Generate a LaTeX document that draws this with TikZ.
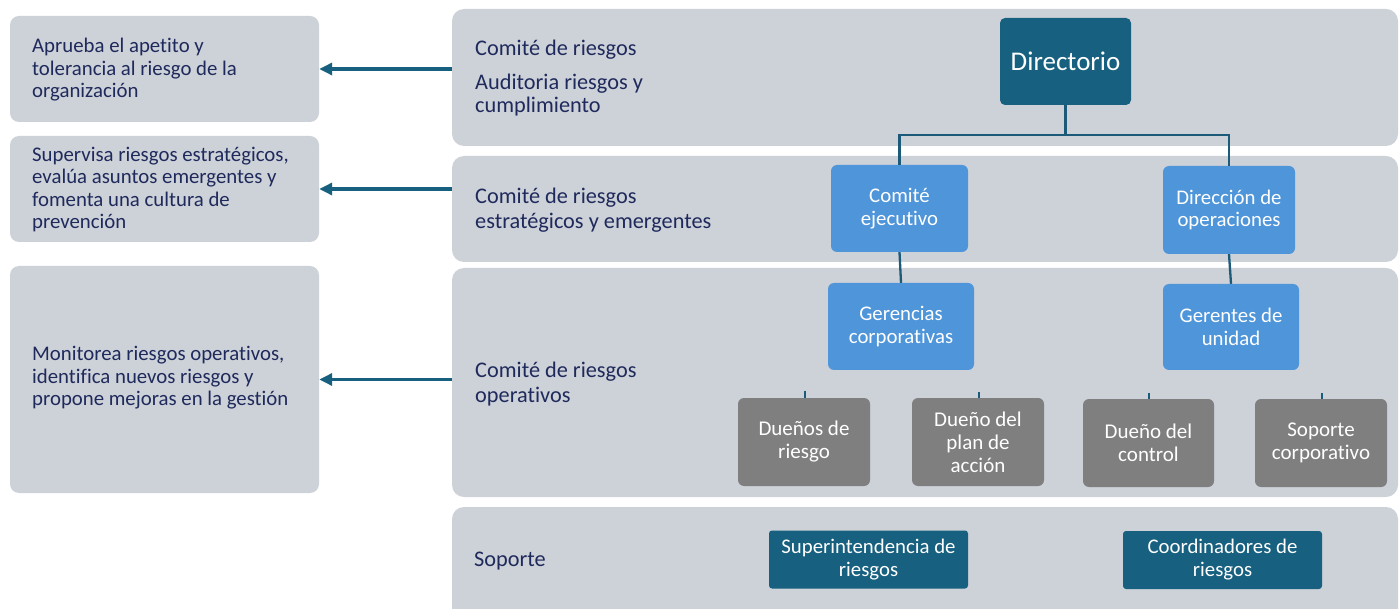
\documentclass[tikz,border=0pt]{standalone}
\usepackage{fontspec}
\setmainfont[Ligatures=NoCommon]{Carlito}
\usetikzlibrary{arrows.meta}
\definecolor{bandc}{HTML}{CDD1D8}
\definecolor{navy}{HTML}{1F2A5C}
\definecolor{tealc}{HTML}{17607F}
\definecolor{lblue}{HTML}{4F95D9}
\definecolor{dgray}{HTML}{7F7F7F}
\definecolor{linec}{HTML}{1B5A78}
\tikzset{
  band/.style={fill=bandc, rounded corners=12pt, inner sep=0pt},
  lbox/.style={fill=bandc, rounded corners=9pt, inner sep=0pt, minimum width=309pt},
  ltext/.style={anchor=west, align=left, text=navy, inner sep=0pt, font=\fontsize{20.8}{22.5}\selectfont},
  btext/.style={anchor=west, align=left, text=navy, inner sep=0pt, font=\fontsize{22.3}{24.5}\selectfont},
  dirbox/.style={fill=tealc, rounded corners=5pt, inner sep=0pt, text=white, font=\fontsize{27}{30}\selectfont},
  bluebox/.style={fill=lblue, rounded corners=6pt, inner sep=0pt, text=white, align=center, font=\fontsize{20.8}{22.5}\selectfont},
  graybox/.style={fill=dgray, rounded corners=6pt, inner sep=0pt, text=white, align=center, minimum width=132pt, minimum height=88pt, font=\fontsize{21}{23}\selectfont},
  supbox/.style={fill=tealc, rounded corners=3pt, inner sep=0pt, text=white, align=center, minimum width=199pt, minimum height=58pt, font=\fontsize{20.8}{23}\selectfont},
  conn/.style={draw=linec, line width=2.3pt},
  arr/.style={draw=tealc, line width=3.5pt, -{Triangle[length=13pt,width=12pt]}}
}
\begin{document}
\begin{tikzpicture}[x=1pt,y=-1pt]
\useasboundingbox (0,0) rectangle (1400,609);
\clip (0,0) rectangle (1400,609);
\fill[white] (0,0) rectangle (1400,609);
% left boxes
\node[lbox, minimum height=106pt] (l1) at (164.5,69) {};
\node[lbox, minimum height=106pt] (l2) at (164.5,189) {};
\node[lbox, minimum height=227pt] (l3) at (164.5,379.5) {};
\node[ltext] (lt1) at (32,70) {Aprueba el apetito y\\tolerancia al riesgo de la\\organización};
\node[ltext] (lt2) at (32,189.5) {Supervisa riesgos estratégicos,\\evalúa asuntos emergentes y\\fomenta una cultura de\\prevención};
\node[ltext] (lt3) at (32,378) {Monitorea riesgos operativos,\\identifica nuevos riesgos y\\propone mejoras en la gestión};
% bands
\node[band, minimum width=946pt, minimum height=137pt] (b1) at (925,77.5) {};
\node[band, minimum width=946pt, minimum height=106pt] (b2) at (925,209) {};
\node[band, minimum width=946pt, minimum height=229pt] (b3) at (925,382.5) {};
\node[band, minimum width=946pt, minimum height=130pt] (b4) at (925,572) {};
\node[btext, font=\fontsize{22.3}{23}\selectfont] (bt1) at (475,78.5) {Comité de riesgos\\[11pt]Auditoria riesgos y\\cumplimiento};
\node[btext] (bt2) at (475,210) {Comité de riesgos\\estratégicos y emergentes};
\node[btext] (bt3) at (475,384) {Comité de riesgos\\operativos};
\node[btext] (bt4) at (474,561) {Soporte};
% arrows
\draw[arr] (b1.west |- l1.east) -- (l1.east);
\draw[arr] (b2.west |- l2.east) -- (l2.east);
\draw[arr] (b3.west |- l3.east) -- (l3.east);
% org chart
\node[dirbox, minimum width=131pt, minimum height=87pt] (dir) at (1065.5,61.5) {Directorio};
\node[bluebox, minimum width=137pt, minimum height=87pt] (ce) at (899.5,208.5) {Comité\\ejecutivo};
\node[bluebox, minimum width=132pt, minimum height=88pt] (do) at (1229,210) {Dirección de\\operaciones};
\node[bluebox, minimum width=146pt, minimum height=87pt] (gc) at (901,326.5) {Gerencias\\corporativas};
\node[bluebox, minimum width=136pt, minimum height=86pt] (gu) at (1231,327) {Gerentes de\\unidad};
\draw[conn] (dir.south) -- ++(0,30) -| (ce.north);
\draw[conn] (dir.south) -- ++(0,30) -| (do.north);
\draw[conn] (ce.south) -- (gc.north);
\draw[conn] (do.south) -- (gu.north);
\node[graybox] (g1) at (804,442) {Dueños de\\riesgo};
\node[graybox] (g2) at (978,442) {Dueño del\\plan de\\acción};
\node[graybox, minimum width=131pt] (g3) at (1148.5,443) {Dueño del\\control};
\node[graybox] (g4) at (1321,443) {Soporte\\corporativo};
\coordinate (k1) at (805,391);
\coordinate (k2) at (979,392);
\coordinate (k3) at (1149,393);
\coordinate (k4) at (1322,393);
\draw[conn, line width=1.6pt] (k1) -- (k1 |- g1.north);
\draw[conn, line width=1.6pt] (k2) -- (k2 |- g2.north);
\draw[conn, line width=1.6pt] (k3) -- (k3 |- g3.north);
\draw[conn, line width=1.6pt] (k4) -- (k4 |- g4.north);
\node[supbox] (s1) at (868.5,559.5) {Superintendencia de\\riesgos};
\node[supbox] (s2) at (1222.5,560) {Coordinadores de\\riesgos};
\end{tikzpicture}
\end{document}
